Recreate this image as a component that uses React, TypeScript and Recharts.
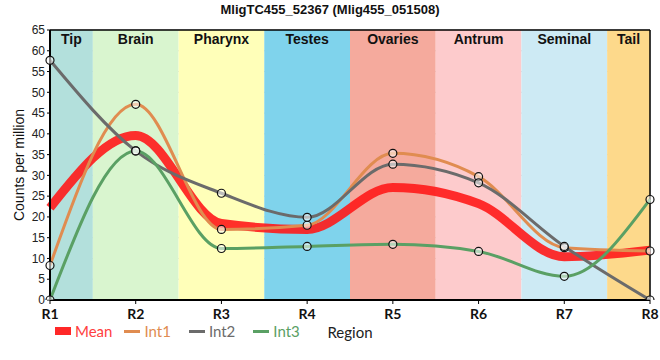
import React from 'react';
import {
  LineChart,
  Line,
  XAxis,
  YAxis,
  CartesianGrid,
  ReferenceArea,
  ReferenceLine,
} from 'recharts';

const regions = ['R1', 'R2', 'R3', 'R4', 'R5', 'R6', 'R7', 'R8'];
const meanValues = [22.2, 39.6, 18.4, 17.0, 27.1, 23.2, 10.4, 12.0];
const int1Values = [8.3, 47.1, 17.0, 18.0, 35.3, 29.7, 12.6, 11.8];
const int2Values = [57.7, 35.9, 25.7, 19.9, 32.7, 28.2, 12.9, 0];
const int3Values = [0, 35.9, 12.4, 12.9, 13.4, 11.7, 5.7, 24.2];
const yTicks = [0, 5, 10, 15, 20, 25, 30, 35, 40, 45, 50, 55, 60, 65];

const bandNames = ['Tip', 'Brain', 'Pharynx', 'Testes', 'Ovaries', 'Antrum', 'Seminal', 'Tail'];
const bandColors = ['#b3e0dc', '#d9f5cf', '#ffffb9', '#7fd3ec', '#f5aa9d', '#fdcbcc', '#cdeaf4', '#fdd98b'];

const data = regions.map((r, i) => ({
  x: i + 1,
  mean: meanValues[i],
  int1: int1Values[i],
  int2: int2Values[i],
  int3: int3Values[i],
}));

const series = [
  { key: 'int1', name: 'Int1', color: '#e08c50' },
  { key: 'int2', name: 'Int2', color: '#6b6b6b' },
  { key: 'int3', name: 'Int3', color: '#5aa064' },
];

const dot = { r: 4, stroke: '#111', strokeWidth: 1.2, fill: 'rgba(255,255,255,0.55)' };

function ChartLegend() {
  const item = (icon: React.ReactNode, label: string, color: string, mr: number) => (
    <span key={label} style={{ display: 'inline-flex', alignItems: 'center', marginRight: mr }}>
      {icon}
      <span style={{ color, marginLeft: 4 }}>{label}</span>
    </span>
  );
  return (
    <div
      style={{
        position: 'absolute',
        left: 55,
        top: 322,
        fontFamily: 'Lato, sans-serif',
        fontSize: 15,
        display: 'flex',
        alignItems: 'center',
      }}
    >
      {item(<span style={{ width: 16, height: 8, background: '#ff2828', display: 'inline-block' }} />, 'Mean', '#ff4040', 12)}
      {series.map((s) =>
        item(
          <span style={{ width: 16, height: 3, background: s.color, display: 'inline-block' }} />,
          s.name,
          s.color,
          18,
        ),
      )}
    </div>
  );
}

export default function App() {
  return (
    <div style={{ position: 'fixed', left: 0, top: 0, width: 660, height: 360, background: '#fff' }}>
      <div
        style={{
          position: 'absolute',
          top: 2,
          width: 660,
          textAlign: 'center',
          fontFamily: '"Liberation Sans", Arial, sans-serif',
          fontWeight: 'bold',
          fontSize: 13,
          color: '#111',
          zIndex: 2,
        }}
      >
        MligTC455_52367 (Mlig455_051508)
      </div>
      <LineChart width={660} height={360} data={data} margin={{ top: 30, right: 10, bottom: 20, left: 0 }}>
        {bandNames.map((name, i) => (
          <ReferenceArea
            key={name}
            x1={Math.max(1, i + 0.5)}
            x2={Math.min(8, i + 1.5)}
            y1={0}
            y2={65}
            fill={bandColors[i]}
            fillOpacity={1}
            stroke="none"
            label={{
              value: name,
              position: 'insideTop',
              offset: 4,
              fontFamily: '"Liberation Sans", Arial, sans-serif',
              fontWeight: 'bold',
              fontSize: 14,
              fill: '#111',
            }}
          />
        ))}
        <CartesianGrid stroke="#cccccc" strokeWidth={1} />
        <XAxis
          dataKey="x"
          type="number"
          domain={[1, 8]}
          ticks={[1, 2, 3, 4, 5, 6, 7, 8]}
          interval={0}
          tickFormatter={(v: number) => regions[v - 1]}
          height={40}
          tickSize={4}
          tickMargin={5}
          axisLine={{ stroke: '#000', strokeWidth: 2 }}
          tickLine={{ stroke: '#000' }}
          tick={{ fontFamily: 'Lato, sans-serif', fontWeight: 'bold', fontSize: 14, fill: '#111' }}
          label={{ value: 'Region', position: 'insideBottom', offset: 2, fontFamily: 'Lato, sans-serif', fontSize: 15, fill: '#222' }}
        />
        <YAxis
          domain={[0, 65]}
          ticks={yTicks}
          interval={0}
          width={50}
          tickSize={3}
          allowDataOverflow
          axisLine={{ stroke: '#000', strokeWidth: 2 }}
          tickLine={{ stroke: '#000' }}
          tick={{ fontFamily: '"Liberation Sans", Arial, sans-serif', fontSize: 12, fill: '#222' }}
          label={{
            value: 'Counts per million',
            angle: -90,
            position: 'insideLeft',
            offset: 19,
            style: { textAnchor: 'middle' },
            fontFamily: '"Liberation Sans", Arial, sans-serif',
            fontSize: 14,
            fill: '#111',
          }}
        />
        <ReferenceLine y={65} stroke="#000" strokeWidth={1.5} />
        <ReferenceLine x={8} stroke="#000" strokeWidth={1.5} />
        <Line
          type="monotone"
          dataKey="mean"
          name="Mean"
          stroke="#ff1a1a"
          strokeOpacity={0.9}
          strokeWidth={9}
          dot={false}
          isAnimationActive={false}
        />
        {series.map((s) => (
          <Line
            key={s.key}
            type="monotone"
            dataKey={s.key}
            name={s.name}
            stroke={s.color}
            strokeWidth={3}
            dot={dot}
            activeDot={false}
            isAnimationActive={false}
          />
        ))}
      </LineChart>
      <ChartLegend />
    </div>
  );
}
